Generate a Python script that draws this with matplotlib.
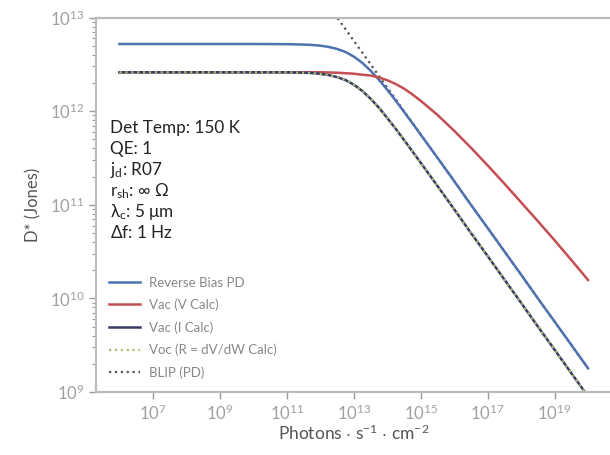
import matplotlib
matplotlib.use("Agg")
import matplotlib.pyplot as plt
from matplotlib.lines import Line2D

plt.rcParams['font.family'] = ['Lato', 'DejaVu Sans']
plt.rcParams['mathtext.fontset'] = 'custom'
plt.rcParams['mathtext.rm'] = 'Lato'
plt.rcParams['mathtext.it'] = 'Lato:italic'
plt.rcParams['mathtext.default'] = 'regular'

# photon flux (photons / s / cm^2); finer steps around the roll-off
log_flux = [6.0, 6.5, 7.0, 7.5, 8.0, 8.5, 9.0, 9.5, 10.0, 10.5,
            11.0, 11.5, 11.75, 12.0, 12.25, 12.5, 12.75, 13.0, 13.25, 13.5,
            13.75, 14.0, 14.25, 14.5, 14.75, 15.0, 15.5, 16.0, 16.5, 17.0,
            17.5, 18.0, 18.5, 19.0, 19.5, 20.0]
flux = [10 ** v for v in log_flux]

# D* in Jones
d_reverse_bias = [5.21e12, 5.21e12, 5.21e12, 5.21e12, 5.21e12, 5.21e12, 5.21e12, 5.21e12, 5.21e12, 5.20e12,
                  5.19e12, 5.14e12, 5.09e12, 5.00e12, 4.85e12, 4.62e12, 4.29e12, 3.83e12, 3.29e12, 2.71e12,
                  2.17e12, 1.69e12, 1.30e12, 9.86e11, 7.45e11, 5.61e11, 3.18e11, 1.79e11, 1.00e11, 5.65e10,
                  3.18e10, 1.79e10, 1.00e10, 5.65e9, 3.18e9, 1.79e9]
d_voc_v = [2.60e12, 2.60e12, 2.60e12, 2.60e12, 2.60e12, 2.60e12, 2.60e12, 2.60e12, 2.60e12, 2.60e12,
           2.60e12, 2.60e12, 2.60e12, 2.60e12, 2.59e12, 2.57e12, 2.54e12, 2.51e12, 2.45e12, 2.40e12,
           2.29e12, 2.14e12, 1.95e12, 1.74e12, 1.51e12, 1.29e12, 9.12e11, 6.17e11, 4.07e11, 2.63e11,
           1.68e11, 1.06e11, 6.68e10, 4.17e10, 2.57e10, 1.57e10]
d_voc_i = [2.60e12, 2.60e12, 2.60e12, 2.60e12, 2.60e12, 2.60e12, 2.60e12, 2.60e12, 2.60e12, 2.60e12,
           2.60e12, 2.57e12, 2.55e12, 2.50e12, 2.43e12, 2.31e12, 2.15e12, 1.92e12, 1.65e12, 1.36e12,
           1.09e12, 8.45e11, 6.50e11, 4.93e11, 3.73e11, 2.81e11, 1.59e11, 8.95e10, 5.00e10, 2.83e10,
           1.59e10, 8.95e9, 5.00e9, 2.83e9, 1.59e9, 8.95e8]
d_voc_r = [2.60e12, 2.60e12, 2.60e12, 2.60e12, 2.60e12, 2.60e12, 2.60e12, 2.60e12, 2.60e12, 2.60e12,
           2.60e12, 2.57e12, 2.55e12, 2.50e12, 2.43e12, 2.31e12, 2.15e12, 1.92e12, 1.65e12, 1.36e12,
           1.09e12, 8.45e11, 6.50e11, 4.93e11, 3.73e11, 2.81e11, 1.59e11, 8.95e10, 5.00e10, 2.83e10,
           1.59e10, 8.95e9, 5.00e9, 2.83e9, 1.59e9, 8.95e8]
d_blip = [1.79e16, 1.00e16, 5.65e15, 3.18e15, 1.79e15, 1.00e15, 5.65e14, 3.18e14, 1.79e14, 1.00e14,
          5.65e13, 3.18e13, 2.38e13, 1.79e13, 1.34e13, 1.00e13, 7.53e12, 5.65e12, 4.24e12, 3.18e12,
          2.38e12, 1.79e12, 1.34e12, 1.00e12, 7.53e11, 5.65e11, 3.18e11, 1.79e11, 1.00e11, 5.65e10,
          3.18e10, 1.79e10, 1.00e10, 5.65e9, 3.18e9, 1.79e9]

params = ["Det Temp: 150 K", "QE: 1", "j$_{d}$: R07", r"r$_{sh}$: $\infty$ $\Omega$",
          r"$\lambda_{c}$: 5 $\mu$m", "$\Delta$f: 1 Hz"]

fig = plt.figure(figsize=(6.1, 4.55), dpi=100)
ax = fig.add_axes([96 / 610, 63 / 455, 515.5 / 610, 374.5 / 455])

ax.plot(flux, d_blip, ':', color='#555555', lw=1.6, zorder=1.5)
ax.plot(flux, d_reverse_bias, color='#4c72b0', lw=1.8)
ax.plot(flux, d_voc_v, color='#c44e52', lw=1.8)
ax.plot(flux, d_voc_i, color='#3a3a66', lw=1.8)
ax.plot(flux, d_voc_r, ':', color='#a8c070', lw=1.6)

ax.set_xscale('log')
ax.set_yscale('log')
ax.set_xlim(10 ** 5.3, 10 ** 20.7)
ax.set_ylim(1e9, 1e13)
ax.set_xticks([1e7, 1e9, 1e11, 1e13, 1e15, 1e17, 1e19])
ax.xaxis.set_minor_locator(matplotlib.ticker.NullLocator())

for s in ax.spines.values():
    s.set_color('#bbbbbb')
    s.set_linewidth(1.6)
ax.tick_params(which='both', colors='#999999', labelcolor='#a0a0a0', labelsize=12)
ax.tick_params(which='major', length=5, width=1)
ax.tick_params(which='minor', length=3, width=0.8)

ax.set_xlabel("Photons $\cdot$ s$^{-1}$ $\cdot$ cm$^{-2}$", color='#555555', fontsize=12.5,
              labelpad=0)
ax.set_ylabel("D* (Jones)", color='#555555', fontsize=12, labelpad=6)

for i, t in enumerate(params):
    ax.text(0.028, 0.705 - i * 0.056, t, transform=ax.transAxes, fontsize=12.3,
            color='#222222', va='center', ha='left')

handles = [Line2D([], [], color='#4c72b0', lw=1.8),
           Line2D([], [], color='#c44e52', lw=1.8),
           Line2D([], [], color='#3a3a66', lw=1.8),
           Line2D([], [], color='#a8c070', lw=1.6, ls=':'),
           Line2D([], [], color='#555555', lw=1.6, ls=':')]
labels = ["Reverse Bias PD", "Vac (V Calc)", "Vac (I Calc)", "Voc (R = dV/dW Calc)", "BLIP (PD)"]
ax.legend(handles, labels, loc='lower left', bbox_to_anchor=(0.0, 0.0), frameon=False,
          fontsize=9.5, labelcolor='#888888', handlelength=2.3, handletextpad=0.75,
          labelspacing=0.76, borderaxespad=0.6)

fig.savefig("out.png", dpi=100)
